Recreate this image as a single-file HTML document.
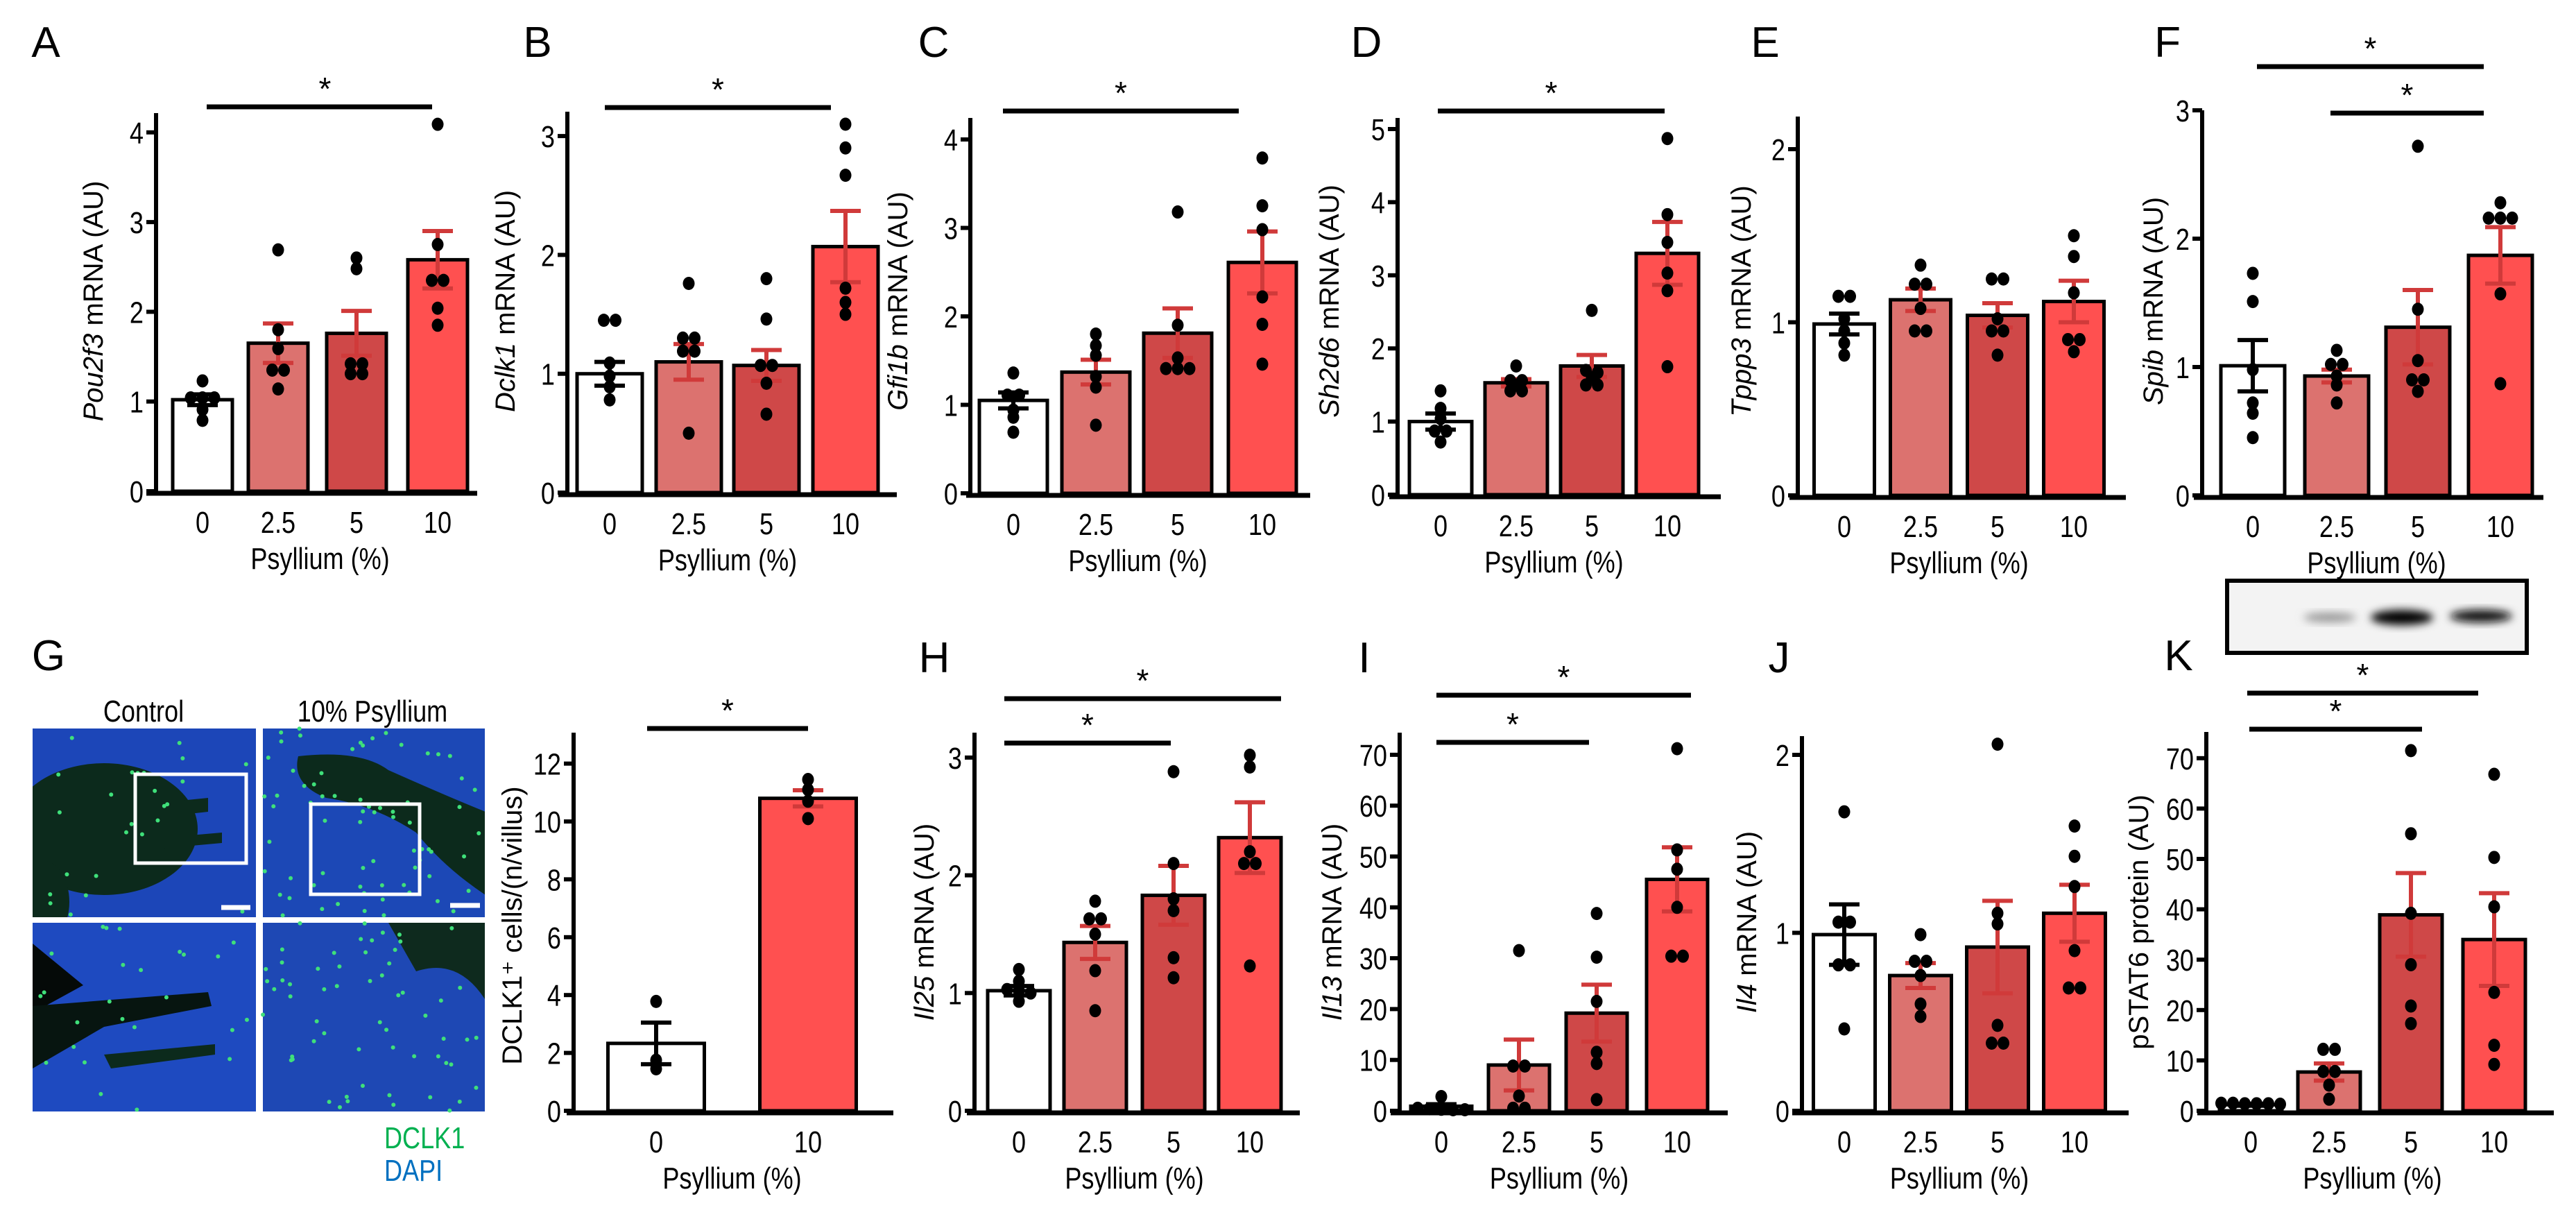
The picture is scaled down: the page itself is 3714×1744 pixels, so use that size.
<!DOCTYPE html>
<html><head><meta charset="utf-8">
<style>
html,body{margin:0;padding:0;background:#fff;}
svg{display:block;}
.tick{font-family:"Liberation Sans Narrow","Liberation Sans",sans-serif;font-size:44px;fill:#000;}
.ylab{font-family:"Liberation Sans",sans-serif;font-size:40px;fill:#000;}
.plet{font-family:"Liberation Sans",sans-serif;font-size:62px;fill:#000;}
.star{font-family:"Liberation Sans",sans-serif;font-size:46px;fill:#000;}
</style></head>
<body>
<svg id="fig" xmlns="http://www.w3.org/2000/svg" width="3714" height="1744" viewBox="0 0 3714 1744">
<defs>
<filter id="blur4" x="-50%" y="-50%" width="200%" height="200%"><feGaussianBlur stdDeviation="6"/></filter>
<clipPath id="c1"><rect x="47" y="1050" width="322" height="272"/></clipPath>
<clipPath id="c2"><rect x="379" y="1050" width="320" height="272"/></clipPath>
<clipPath id="c3"><rect x="47" y="1330" width="322" height="272"/></clipPath>
<clipPath id="c4"><rect x="379" y="1330" width="320" height="272"/></clipPath>
</defs>
<g id="micro">
  <text class="tick" text-anchor="middle" transform="translate(207,1040) scale(0.82,1)">Control</text>
  <text class="tick" text-anchor="middle" transform="translate(537,1040) scale(0.82,1)">10% Psyllium</text>
  <g clip-path="url(#c1)">
    <rect x="47" y="1050" width="322" height="272" fill="#1c46b8"/>
    <ellipse cx="150" cy="1195" rx="135" ry="95" fill="#0c2a1c"/>
    <ellipse cx="60" cy="1300" rx="40" ry="60" fill="#0c2a1c"/>
    <path d="M200 1160 L300 1150 L300 1170 L210 1180Z M205 1210 L320 1200 L320 1215 L210 1225Z" fill="#0c2a1c"/>
  </g>
  <g clip-path="url(#c2)">
    <rect x="379" y="1050" width="320" height="272" fill="#1c48b6"/>
    <path d="M430 1090 Q520 1080 560 1110 Q650 1150 700 1170 L700 1290 Q640 1250 600 1200 Q540 1160 470 1150 Q420 1130 430 1090Z" fill="#0c2a1c"/>
  </g>
  <g clip-path="url(#c3)">
    <rect x="47" y="1330" width="322" height="272" fill="#1e4ac0"/>
    <path d="M47 1360 L120 1420 L47 1460Z" fill="#050a08"/>
    <path d="M47 1450 L300 1430 L305 1450 L150 1480 L47 1540Z" fill="#071510"/>
    <path d="M150 1520 L310 1505 L310 1520 L160 1540Z" fill="#0c2a1c"/>
  </g>
  <g clip-path="url(#c4)">
    <rect x="379" y="1330" width="320" height="272" fill="#1e48b4"/>
    <path d="M560 1330 L699 1330 L699 1440 Q660 1380 600 1400 Z" fill="#0e2a1e"/>
  </g>
  <g id="greendots"></g>
  <rect x="195" y="1116" width="160" height="128" fill="none" stroke="#fff" stroke-width="5"/>
  <rect x="448" y="1159" width="157" height="130" fill="none" stroke="#fff" stroke-width="5"/>
  <line x1="319" y1="1308" x2="361" y2="1308" stroke="#fff" stroke-width="7"/>
  <line x1="649" y1="1305" x2="692" y2="1305" stroke="#fff" stroke-width="7"/>
  <text class="tick" style="fill:#00b050" transform="translate(554,1655) scale(0.82,1)">DCLK1</text>
  <text class="tick" style="fill:#0070c0" transform="translate(554,1702) scale(0.82,1)">DAPI</text>
</g>
<g id="blot">
  <rect x="3211" y="837" width="432" height="104" fill="#f3f3f3" stroke="#000" stroke-width="6"/>
  <ellipse cx="3359" cy="890" rx="38" ry="7" fill="#999" filter="url(#blur4)"/>
  <ellipse cx="3463" cy="890" rx="45" ry="11" fill="#000" filter="url(#blur4)"/>
  <ellipse cx="3577" cy="888" rx="45" ry="9" fill="#111" filter="url(#blur4)"/>
</g>
<g id="charts"></g>
</svg>
<script>
// ---- data ----
const groups = ["0","2.5","5","10"];
const groupsG = ["0","10"];
const aMeans=[1.02,1.65,1.76,2.58], aSem=[0.06,0.22,0.25,0.32];
const aDots=[[1.23,1.04,1.04,1.04,0.91,0.79],[2.69,1.8,1.59,1.35,1.35,1.14],[2.6,2.48,1.42,1.42,1.31,1.31],[4.09,2.75,2.35,2.35,2.04,1.85]];
const bMeans=[1.0,1.1,1.07,2.07], bSem=[0.1,0.15,0.13,0.3];
const bDots=[[1.45,1.45,1.09,0.98,0.89,0.78],[1.76,1.3,1.3,1.19,1.19,0.5],[1.8,1.46,1.07,1.07,0.92,0.66],[3.1,2.9,2.67,1.72,1.6,1.5]];
const cMeans=[1.05,1.37,1.81,2.61], cSem=[0.09,0.14,0.28,0.35];
const cDots=[[1.36,1.11,1.11,0.94,0.86,0.69],[1.8,1.67,1.56,1.32,1.2,0.77],[3.18,1.9,1.53,1.41,1.41,1.41],[3.79,3.25,2.98,2.22,1.91,1.46]];
const dMeans=[1.0,1.53,1.76,3.3], dSem=[0.11,0.05,0.15,0.43];
const dDots=[[1.42,1.18,1.04,0.87,0.87,0.72],[1.76,1.56,1.56,1.5,1.42,1.42],[2.52,1.7,1.67,1.6,1.5,1.5],[4.87,3.83,3.45,3.03,2.79,1.75]];
const eMeans=[0.99,1.13,1.04,1.12], eSem=[0.06,0.065,0.07,0.12];
const eDots=[[1.15,1.15,1.02,0.95,0.88,0.81],[1.33,1.22,1.22,1.08,0.95,0.95],[1.25,1.25,1.02,0.95,0.95,0.81],[1.5,1.38,1.17,0.9,0.9,0.83]];
const fMeans=[1.01,0.93,1.31,1.87], fSem=[0.2,0.05,0.29,0.22];
const fDots=[[1.73,1.51,0.98,0.72,0.64,0.45],[1.13,1.02,1.02,0.93,0.86,0.72],[2.72,1.45,1.05,0.9,0.9,0.81],[2.28,2.16,2.16,2.16,1.57,0.87]];
const gMeans=[2.33,10.8], gSem=[0.72,0.28];
const gDots=[[3.78,1.75,1.45],[11.45,11.1,10.7,10.1]];
const hMeans=[1.02,1.43,1.83,2.32], hSem=[0.04,0.14,0.25,0.3];
const hDots=[[1.2,1.1,1.03,1.02,1.0,0.93],[1.78,1.63,1.63,1.5,1.19,0.85],[2.88,2.1,1.8,1.7,1.3,1.13],[3.02,2.92,2.2,2.1,2.1,1.23]];
const iMeans=[0.9,9.0,19.2,45.5], iSem=[0.4,5.0,5.6,6.3];
const iDots=[[2.8,0.5,0.4,0.3,0.2,0.2],[31.5,8.8,8.8,2.9,0.5,0.5],[38.8,30.2,21.5,11.5,9.3,2.2],[71.2,51.3,47.5,40,30.4,30.4]];
const jMeans=[0.99,0.76,0.92,1.11], jSem=[0.17,0.07,0.26,0.16];
const jDots=[[1.68,1.06,1.06,0.82,0.82,0.46],[0.99,0.84,0.84,0.76,0.6,0.53],[2.06,1.11,1.05,0.48,0.38,0.38],[1.6,1.43,1.26,0.9,0.69,0.69]];
const kMeans=[1.2,7.7,38.9,34], kSem=[0.2,1.7,8.3,9.2];
const kDots=[[1.5,1.5,1.4,1.4,1.4,1.3],[12.2,12.2,7.8,7.8,5.1,2.3],[71.5,55,39.2,29,20.8,17.3],[66.8,50.3,40.5,23.5,13,9.2]];
const ticks4=[0,1,2,3,4], ticks3=[0,1,2,3], ticks5=[0,1,2,3,4,5], ticks2=[0,1,2], ticks70=[0,10,20,30,40,50,60,70], ticks12=[0,2,4,6,8,10,12];

const NS="http://www.w3.org/2000/svg";
const root=document.getElementById('charts');
const FILL=['#ffffff','#DC726F','#CF4848','#FF5050'];
const ERR='#D03A3A';
function mk(tag,attrs,parent){const e=document.createElementNS(NS,tag);for(const k in attrs)e.setAttribute(k,attrs[k]);(parent||root).appendChild(e);return e;}
function ntext(x,y,anchor,str,parent,size){
  const t=mk('text',{'class':'tick','text-anchor':anchor,transform:`translate(${x},${y}) scale(0.82,1)`},parent);
  if(size)t.setAttribute('font-size',size);
  t.textContent=str;return t;
}

function panel(p){
  const g=mk('g',{});
  
  
  const yS=v=>p.y0-v*p.ppu;
  const fills=p.fills||FILL;
  const L=mk('text',{x:p.lx,y:p.ly,'class':'plet','text-anchor':'middle'},g);L.textContent=p.letter;
  
  
  p.means.forEach((m,i)=>{
    const r=mk('rect',{x:p.centers[i]-p.bw/2,y:yS(m),width:p.bw,height:p.y0-yS(m),fill:fills[i],stroke:'#000','stroke-width':5},g);
    
    
  });
  p.means.forEach((m,i)=>{
    const col=i===0?'#000':ERR;const cx=p.centers[i];
    const e=mk('g',{stroke:col,'stroke-width':6},g);
    
    
    mk('line',{x1:cx,x2:cx,y1:yS(m+p.sem[i]),y2:yS(m-p.sem[i])},e);
    mk('line',{x1:cx-22,x2:cx+22,y1:yS(m+p.sem[i]),y2:yS(m+p.sem[i])},e);
    mk('line',{x1:cx-22,x2:cx+22,y1:yS(m-p.sem[i]),y2:yS(m-p.sem[i])},e);
  });
  const tol=p.tol;
  p.dots.forEach((arr,i)=>{
    let k=0;
    while(k<arr.length){
      let j=k;while(j+1<arr.length&&Math.abs(arr[j+1]-arr[k])<tol)j++;
      const n=j-k+1;
      for(let q=k;q<=j;q++){
        const off=(q-k-(n-1)/2)*17;
        const c=mk('ellipse',{cx:p.centers[i]+off,cy:yS(arr[q]),rx:8.5,ry:9.5,fill:'#000'},g);
        
        
      }
      k=j+1;
    }
  });
  const ax=mk('line',{x1:p.ax,x2:p.ax,y1:p.top,y2:p.y0+3,stroke:'#000','stroke-width':6},g);
  
  
  const bx=mk('line',{x1:p.bl,x2:p.br,y1:p.y0+3,y2:p.y0+3,stroke:'#000','stroke-width':7},g);
  
  
  p.ticks.forEach(t=>{
    mk('line',{x1:p.ax-14,x2:p.ax,y1:yS(t),y2:yS(t),stroke:'#000','stroke-width':6},g);
    const tt=ntext(p.ax-18,yS(t)+16,'end',String(t),g);
    
    
  });
  p.cats.forEach((c,i)=>{
    const tt=ntext(p.centers[i],p.y0+60,'middle',c,g);
    
    
  });
  const xt=ntext((p.centers[0]+p.centers[p.centers.length-1])/2,p.y0+112,'middle','Psyllium (%)',g,46);
  
  
  const yt=mk('text',{x:0,y:0,'class':'ylab','text-anchor':'middle',transform:`translate(${p.ylx},${p.yly}) rotate(-90)`},g);
  
  
  if(p.gene){const s=mk('tspan',{'font-style':'italic'},yt);s.textContent=p.gene;const s2=mk('tspan',{},yt);s2.textContent=' '+p.yrest;}
  else yt.textContent=p.yrest;
  (p.sigs||[]).forEach(s=>{
    const sg=mk('g',{},g);
    
    
    mk('line',{x1:s[0],x2:s[1],y1:s[2],y2:s[2],stroke:'#000','stroke-width':7},sg);
    const st=mk('text',{x:(s[0]+s[1])/2+(s[3]||0),y:s[2]-10,'class':'star','text-anchor':'middle'},sg);st.textContent='*';
  });
}

panel({letter:'A',lx:66,ly:82,means:aMeans,sem:aSem,dots:aDots,cats:groups,ax:225,y0:708,ppu:129.3,top:163,bl:211,br:688,centers:[292,401,514,631],bw:86,ticks:ticks4,tol:0.05,gene:'Pou2f3',yrest:'mRNA (AU)',ylx:148,yly:434,sigs:[[298,623,154,8]]});
panel({letter:'B',lx:775,ly:82,means:bMeans,sem:bSem,dots:bDots,cats:groups,ax:818,y0:710,ppu:171.3,top:161,bl:805,br:1293,centers:[879,993,1105,1219],bw:94,ticks:ticks3,tol:0.04,gene:'Dclk1',yrest:'mRNA (AU)',ylx:742,yly:434,sigs:[[872,1198,155,0]]});
panel({letter:'C',lx:1346,ly:82,means:cMeans,sem:cSem,dots:cDots,cats:groups,ax:1399,y0:711,ppu:127.5,top:170,bl:1393,br:1889,centers:[1461,1580,1698,1820],bw:98,ticks:ticks4,tol:0.05,gene:'Gfi1b',yrest:'mRNA (AU)',ylx:1308,yly:434,sigs:[[1446,1786,160,0]]});
panel({letter:'D',lx:1970,ly:82,means:dMeans,sem:dSem,dots:dDots,cats:groups,ax:2015,y0:713,ppu:105.4,top:170,bl:2003,br:2481,centers:[2077,2186,2295,2404],bw:90,ticks:ticks5,tol:0.06,gene:'Sh2d6',yrest:'mRNA (AU)',ylx:1930,yly:434,sigs:[[2073,2400,160,0]]});
panel({letter:'E',lx:2545,ly:82,means:eMeans,sem:eSem,dots:eDots,cats:groups,ax:2592,y0:714,ppu:249.5,top:168,bl:2580,br:3065,centers:[2659,2769,2880,2990],bw:87,ticks:ticks2,tol:0.03,gene:'Tppp3',yrest:'mRNA (AU)',ylx:2524,yly:434,sigs:[]});
panel({letter:'F',lx:3125,ly:82,means:fMeans,sem:fSem,dots:fDots,cats:groups,ax:3175,y0:714,ppu:185,top:159,bl:3163,br:3667,centers:[3248,3369,3486,3605],bw:92,ticks:ticks3,tol:0.04,gene:'Spib',yrest:'mRNA (AU)',ylx:3118,yly:434,sigs:[[3254,3581,96,0],[3360,3581,163,0]]});
panel({letter:'G',lx:70,ly:966,means:gMeans,sem:gSem,dots:gDots,cats:groupsG,fills:['#ffffff','#FF5050'],ax:827,y0:1601,ppu:41.7,top:1056,bl:817,br:1288,centers:[946,1165],bw:139,ticks:ticks12,tol:0.2,gene:null,yrest:'DCLK1\u207A cells/(n/villus)',ylx:752,yly:1334,sigs:[[933,1165,1050,0]]});
panel({letter:'H',lx:1347,ly:969,means:hMeans,sem:hSem,dots:hDots,cats:groups,ax:1405,y0:1601,ppu:169.7,top:1056,bl:1394,br:1874,centers:[1469,1579,1692,1802],bw:90,ticks:ticks3,tol:0.04,gene:'Il25',yrest:'mRNA (AU)',ylx:1346,yly:1329,sigs:[[1448,1847,1007,0],[1448,1688,1071,0]]});
panel({letter:'I',lx:1967,ly:969,means:iMeans,sem:iSem,dots:iDots,cats:groups,ax:2018,y0:1601,ppu:7.33,top:1056,bl:2005,br:2491,centers:[2078,2190,2302,2418],bw:88,ticks:ticks70,tol:1.5,gene:'Il13',yrest:'mRNA (AU)',ylx:1934,yly:1329,sigs:[[2071,2438,1002,0],[2071,2291,1070,0]]});
panel({letter:'J',lx:2565,ly:969,means:jMeans,sem:jSem,dots:jDots,cats:groups,ax:2598,y0:1601,ppu:256.5,top:1061,bl:2584,br:3069,centers:[2659,2769,2880,2991],bw:89,ticks:ticks2,tol:0.03,gene:'Il4',yrest:'mRNA (AU)',ylx:2532,yly:1329,sigs:[]});
panel({letter:'K',lx:3141,ly:966,means:kMeans,sem:kSem,dots:kDots,cats:groups,ax:3181,y0:1601,ppu:7.26,top:1055,bl:3168,br:3682,centers:[3245,3358,3476,3596],bw:90,ticks:ticks70,tol:1.5,gene:null,yrest:'pSTAT6 protein (AU)',ylx:3097,yly:1329,sigs:[[3240,3573,999,0],[3243,3492,1051,0]]});

// decorative green DCLK1 puncta (micrograph texture)
(function(){
  const gd=document.getElementById('greendots');
  let s=7;const rnd=()=>{s=(s*9301+49297)%233280;return s/233280;};
  const boxes=[[47,1050,322,272,25],[379,1050,320,272,70],[47,1330,322,272,25],[379,1330,320,272,60]];
  boxes.forEach(b=>{for(let i=0;i<b[4];i++){
    const c=document.createElementNS(NS,'circle');
    c.setAttribute('cx',b[0]+rnd()*b[2]);c.setAttribute('cy',b[1]+rnd()*b[3]);c.setAttribute('r',3);c.setAttribute('fill','#3fe07a');
    
    
    gd.appendChild(c);
  }});
})();
</script>
</body></html>
